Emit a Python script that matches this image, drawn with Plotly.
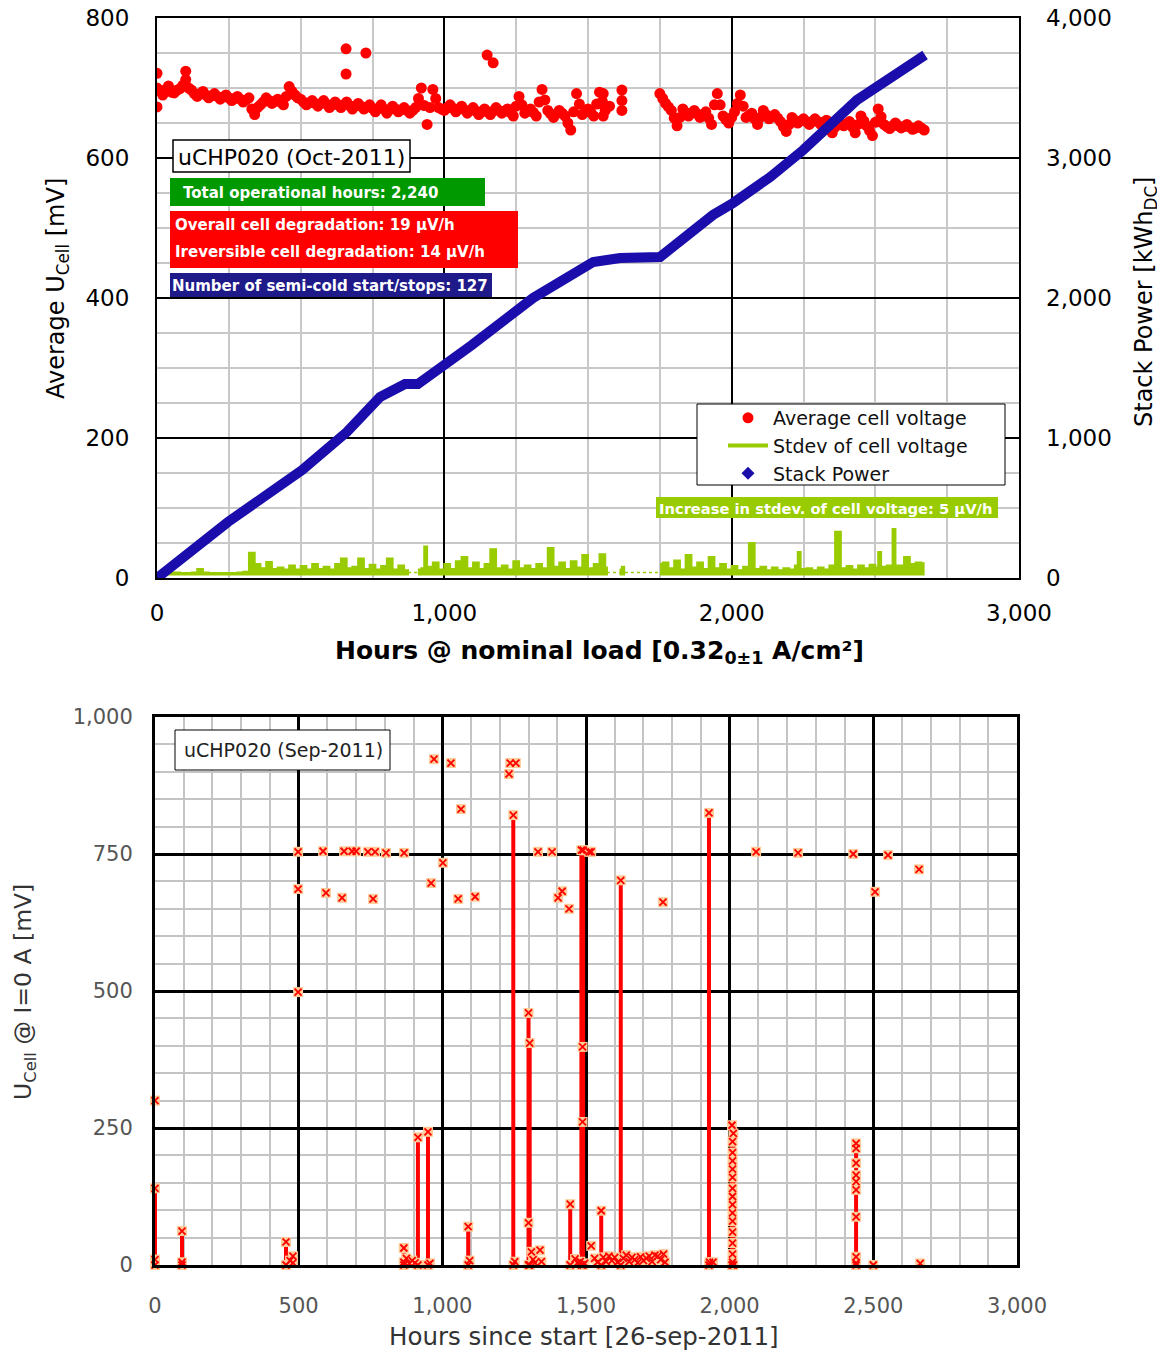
import plotly.graph_objects as go

# page offset of the plot div inside the browser window (default body margin)
OFF = 8
W, H = 1165 - OFF, 1352 - OFF

# ---------------- top chart data ----------------
avg_seg1_start, avg_seg1_step = 0, 20
avg_seg1_mv = [700, 690, 703, 693, 699, 712, 697, 688, 695, 686,
               692, 684, 690, 682, 688, 680, 686, 662, 676, 686,
               678, 684, 676, 702, 690, 684, 676, 682, 674, 682,
               672, 680, 672, 680, 670, 678, 670, 676, 666, 676,
               664, 674, 666, 672, 664, 672, 700, 648, 698, 672,
               668, 676, 666, 674, 664, 672, 662, 670, 662, 672,
               664, 670, 660, 688, 664, 670, 660, 698, 668, 658,
               668, 660, 640, 692, 662, 670, 660, 694, 668]
avg_seg1_mid_start = 10
avg_seg1_mid_mv = [696, 698, 694, 697, 704, 700, 692, 692, 690, 689,
                   688, 687, 686, 685, 684, 683, 670, 672, 680, 682,
                   681, 680, 688, 695, 686, 680, 679, 678, 678, 677,
                   676, 676, 676, 675, 674, 674, 673, 671, 671, 670,
                   669, 670, 669, 668, 668, 685, 675, 672, 685, 670,
                   672, 671, 670, 669, 668, 667, 666, 666, 667, 668,
                   667, 665, 674, 676, 667, 665, 680, 683, 663, 663,
                   664, 650, 666, 677, 666, 665, 677, 681]
avg_seg2_start, avg_seg2_step = 1750, 20
avg_seg2_mv = [692, 678, 668, 646, 670, 660, 668, 658, 666, 648,
               692, 660, 650, 666, 690, 658, 664, 648, 668, 656,
               662, 652, 638, 658, 650, 656, 648, 656, 648, 654,
               636, 652, 646, 652, 636, 660, 646, 632, 670, 648,
               642, 650, 643, 648, 641, 646, 640]
avg_seg2_mid_start = 1760
avg_seg2_mid_mv = [685, 673, 657, 658, 665, 664, 663, 662, 657, 676,
                   676, 655, 658, 678, 674, 661, 656, 658, 662, 659,
                   657, 645, 648, 654, 653, 652, 652, 652, 651, 645,
                   644, 649, 649, 644, 648, 653, 639, 651, 659, 645,
                   646, 646, 645, 644, 643, 643]
avg_extra_hours = [1575, 1553, 1553, 1553, 1618, 1618, 1618, 0, 0, 100, 658, 658, 727, 1149, 1170]
avg_extra_mv = [674, 692, 676, 660, 697, 682, 668, 721, 673, 724, 756, 720, 750, 747, 736]

std_hours_1 = [0, 20, 40, 60, 80, 100, 120, 140, 160, 180, 200, 220, 240, 260, 280, 300, 320, 340, 360, 380,
               400, 420, 440, 460, 480, 500, 520, 540, 560, 580, 600, 620, 640, 660, 680, 700, 720, 740, 760, 780,
               800, 820, 840, 860, 874]
std_mv_1 = [6, 7, 8, 8, 7, 7, 8, 13, 8, 7, 7, 7, 7, 7, 8, 9, 36, 20, 14, 23,
            13, 15, 12, 18, 12, 17, 12, 20, 13, 16, 12, 20, 28, 14, 16, 28, 13, 19, 12, 17,
            28, 12, 18, 11, 11]
std_hours_2 = [908, 920, 930, 940, 960, 980, 1000, 1020, 1040, 1060, 1080, 1100, 1120, 1140, 1160, 1180,
               1200, 1220, 1240, 1260, 1280, 1300, 1320, 1340, 1360, 1380, 1400, 1420, 1440, 1460, 1480,
               1500, 1520, 1540, 1560, 1566]
std_mv_2 = [12, 14, 45, 16, 22, 12, 20, 13, 24, 30, 14, 22, 13, 20, 41, 14,
            18, 12, 24, 14, 18, 13, 20, 14, 43, 16, 22, 13, 24, 15, 33,
            14, 20, 34, 15, 12]
std_hours_3 = [1610, 1618, 1626]
std_mv_3 = [12, 16, 12]
std_hours_4 = [1751, 1760, 1780, 1800, 1820, 1840, 1860, 1880, 1900, 1920, 1940, 1960, 1980, 2000, 2020,
               2040, 2060, 2080, 2100, 2120, 2140, 2160, 2180, 2200, 2220, 2230, 2240, 2260, 2280, 2300,
               2320, 2340, 2360, 2380, 2400, 2420, 2440, 2460, 2480, 2500, 2510, 2520, 2540, 2560, 2570,
               2580, 2600, 2620, 2640, 2660, 2668]
std_mv_4 = [20, 22, 14, 25, 12, 33, 15, 22, 13, 30, 14, 20, 12, 17, 11,
            16, 50, 13, 16, 11, 15, 11, 14, 12, 18, 37, 13, 14, 11, 15,
            12, 18, 66, 14, 17, 12, 18, 14, 19, 15, 37, 16, 18, 70, 18,
            18, 30, 20, 22, 21, 21]
std_floor_mv = 5
std_gap_hours = [874, 908, None, 1566, 1751]
std_gap_mv = [8, 8, None, 8, 8]

power_hours = [0, 247, 505, 661, 776, 863, 908, 1002, 1096, 1309, 1448, 1518, 1612, 1751, 1935,
               2005, 2134, 2249, 2436, 2673]
power_kwh = [0, 400, 771, 1043, 1293, 1386, 1386, 1521, 1664, 2000, 2179, 2257, 2286, 2293, 2593,
             2679, 2864, 3057, 3414, 3736]

# ---------------- bottom chart data ----------------
spike_hours = [0, 94, 456, 866, 915, 950, 1090, 1247, 1300, 1304, 1445, 1484, 1490, 1553, 1621, 1928, 2008, 2013, 2440]
spike_tops = [140, 62, 42, 31, 233, 243, 70, 821, 460, 405, 111, 757, 757, 99, 702, 825, 255, 240, 222]

ocv_high_hours = [498, 498, 585, 595, 651, 658, 686, 700, 741, 759, 766, 804, 867, 961, 971, 1002, 1030,
                  1055, 1065, 1114, 1232, 1236, 1256, 1333, 1382, 1403, 1417, 1441, 1511, 1518, 1768, 2092,
                  2238, 2430, 2506, 2551, 2659, 0, 498]
ocv_high_mv = [754, 686, 755, 679, 670, 755, 755, 755, 754, 668, 754, 752, 752, 697, 923, 734, 916,
               668, 832, 672, 896, 916, 916, 754, 754, 670, 682, 650, 754, 754, 662, 754,
               752, 750, 681, 748, 722, 300, 498]
ocv_mid_hours = [1300, 1488, 1488,
                 2010, 2010, 2010, 2010, 2010, 2010, 2010, 2010, 2010, 2010, 2010, 2010, 2010, 2010,
                 2440, 2440, 2440, 2440, 2440, 2440, 2440, 2440]
ocv_mid_mv = [77, 398, 261,
              225, 205, 190, 175, 160, 140, 125, 110, 95, 80, 60, 40, 20, 5,
              213, 186, 164, 152, 137, 88, 15, 4]
ocv_low_hours = [0, 94, 470, 480, 480, 866, 875, 885, 895, 905, 957, 1095, 1252, 1310, 1316, 1322, 1340,
                 1345, 1462, 1470, 1480, 1495, 1518, 1530, 1540, 1560, 1570, 1580, 1590, 1600, 1610, 1630,
                 1640, 1650, 1660, 1670, 1680, 1690, 1700, 1710, 1720, 1730, 1740, 1750, 1760, 1770, 1775,
                 1930, 1942, 2500, 2663]
ocv_low_mv = [10, 5, 8, 16, 4, 5, 12, 3, 8, 4, 3, 8, 6, 24, 10, 4, 27,
              6, 11, 4, 6, 3, 35, 12, 5, 14, 6, 16, 8, 14, 5, 12,
              18, 6, 14, 10, 4, 15, 8, 12, 16, 6, 18, 16, 10, 20, 5,
              5, 5, 0, 3]

# ---------------- build ----------------
def grid(start, step, vals):
    return [start + i * step for i in range(len(vals))]


avg_hours = (grid(avg_seg1_start, avg_seg1_step, avg_seg1_mv) +
             grid(avg_seg1_mid_start, avg_seg1_step, avg_seg1_mid_mv) +
             grid(avg_seg2_start, avg_seg2_step, avg_seg2_mv) +
             grid(avg_seg2_mid_start, avg_seg2_step, avg_seg2_mid_mv) + avg_extra_hours)
avg_mv = avg_seg1_mv + avg_seg1_mid_mv + avg_seg2_mv + avg_seg2_mid_mv + avg_extra_mv

std_x, std_y = [], []
for hs, vs in [(std_hours_1, std_mv_1), (std_hours_2, std_mv_2), (std_hours_3, std_mv_3),
               (std_hours_4, std_mv_4)]:
    std_x += hs + hs[::-1] + [None]
    std_y += vs + [std_floor_mv] * len(hs) + [None]

RED = "#FF0000"
GREEN = "#99CC00"
BLUE = "#1A0DAB"
PEACH = "#FFCC99"
FONT = "DejaVu Sans"

fig = go.Figure()

fig.add_trace(go.Scatter(x=avg_hours, y=avg_mv, mode="markers", name="Average cell voltage",
                         marker=dict(color=RED, size=11), xaxis="x", yaxis="y", legendrank=1))
fig.add_trace(go.Scatter(x=std_gap_hours, y=std_gap_mv, mode="lines", showlegend=False,
                         line=dict(color=GREEN, width=1.5, dash="dot"), xaxis="x", yaxis="y"))
fig.add_trace(go.Scatter(x=std_x, y=std_y, mode="lines", showlegend=False, fill="toself",
                         fillcolor=GREEN, line=dict(color=GREEN, width=2, shape="hv"),
                         xaxis="x", yaxis="y"))
fig.add_trace(go.Scatter(x=[None], y=[None], mode="lines", name="Stdev of cell voltage",
                         line=dict(color=GREEN, width=4), xaxis="x", yaxis="y", legendrank=2))
fig.add_trace(go.Scatter(x=power_hours, y=power_kwh, mode="lines", showlegend=False,
                         line=dict(color=BLUE, width=10), xaxis="x", yaxis="y2", cliponaxis=False))
fig.add_trace(go.Scatter(x=[None], y=[None], mode="markers", name="Stack Power",
                         marker=dict(color=BLUE, size=10, symbol="diamond"), xaxis="x", yaxis="y2",
                         legendrank=3))

# bottom chart
sx, sy = [], []
for h, t in zip(spike_hours, spike_tops):
    sx += [h, h, None]
    sy += [0, t, None]
fig.add_trace(go.Scatter(x=sx, y=sy, mode="lines", showlegend=False,
                         line=dict(color=RED, width=4), xaxis="x2", yaxis="y3", cliponaxis=False))
all_h = ocv_high_hours + ocv_mid_hours + ocv_low_hours + spike_hours + spike_hours
all_v = ocv_high_mv + ocv_mid_mv + ocv_low_mv + spike_tops + [0] * len(spike_hours)
fig.add_trace(go.Scatter(x=all_h, y=all_v, mode="markers", showlegend=False,
                         marker=dict(color=PEACH, size=10, symbol="square"),
                         xaxis="x2", yaxis="y3", cliponaxis=False))
fig.add_trace(go.Scatter(x=all_h, y=all_v, mode="markers", showlegend=False,
                         marker=dict(color=RED, size=7, symbol="x-thin", line=dict(color=RED, width=1.8)),
                         xaxis="x2", yaxis="y3", cliponaxis=False))


def px(x):
    return (x - OFF) / W


def py(y):
    return 1 - (y - OFF) / H


top_dom_x = [px(157), px(1019)]
top_dom_y = [py(578), py(18)]
bot_dom_x = [px(155), px(1017)]
bot_dom_y = [py(1265), py(717)]

axis_common = dict(showline=True, mirror=True, linecolor="black", zeroline=False, ticks="",
                   automargin=False, ticklabeloverflow="allow")

fig.update_layout(
    width=W, height=H, margin=dict(l=0, r=0, t=0, b=0),
    paper_bgcolor="white", plot_bgcolor="white",
    font=dict(family=FONT, color="black"),
    xaxis=dict(domain=top_dom_x, range=[0, 3000], dtick=1000, tickformat=",", anchor="y",
               showgrid=True, gridcolor="black", gridwidth=2, linewidth=2,
               minor=dict(dtick=250, showgrid=True, gridcolor="#c8c8c8", gridwidth=1.5),
               tickfont=dict(size=23, color="black"), ticklabelstandoff=13, **axis_common),
    yaxis=dict(domain=top_dom_y, range=[0, 800], dtick=200, anchor="x",
               showgrid=True, gridcolor="black", gridwidth=2, linewidth=2,
               minor=dict(dtick=50, showgrid=True, gridcolor="#c8c8c8", gridwidth=1.5),
               tickfont=dict(size=23, color="black"), ticklabelstandoff=21, **axis_common),
    yaxis2=dict(range=[0, 4000], dtick=1000, tickformat=",", overlaying="y", side="right", anchor="x",
                showgrid=False, showline=False, zeroline=False, ticks="", automargin=False,
                ticklabeloverflow="allow",
                tickfont=dict(size=23, color="black"), ticklabelstandoff=26),
    xaxis2=dict(domain=bot_dom_x, range=[0, 3000], dtick=500, tickformat=",", anchor="y3",
                showgrid=True, gridcolor="black", gridwidth=3, linewidth=3,
                minor=dict(dtick=100, showgrid=True, gridcolor="#c4c4c4", gridwidth=2),
                tickfont=dict(size=21, color="#555555"), ticklabelstandoff=20, **axis_common),
    yaxis3=dict(domain=bot_dom_y, range=[0, 1000], dtick=250, tickformat=",", anchor="x2",
                showgrid=True, gridcolor="black", gridwidth=3, linewidth=3,
                minor=dict(dtick=50, showgrid=True, gridcolor="#c4c4c4", gridwidth=2),
                tickfont=dict(size=21, color="#555555"), ticklabelstandoff=15, **axis_common),
    legend=dict(x=px(723), y=py(399), xanchor="left", yanchor="top", bgcolor="rgba(0,0,0,0)",
                borderwidth=0, font=dict(size=19, color="#111111"),
                itemwidth=40, tracegroupgap=0),
)

shapes = []
annots = []


def box(x0, y0, x1, y1, fill, line_w=0):
    shapes.append(dict(type="rect", xref="paper", yref="paper", x0=px(x0), x1=px(x1), y0=py(y1), y1=py(y0),
                       fillcolor=fill, line=dict(color="black", width=line_w), layer="above"))


def text(t, x, y, size, color="white", bold=False, anchor="left", angle=0, family=FONT):
    if bold:
        t = "<b>" + t + "</b>"
    annots.append(dict(text=t, xref="paper", yref="paper", x=px(x), y=py(y), xanchor=anchor,
                       yanchor="middle", showarrow=False, textangle=angle,
                       font=dict(size=size, color=color, family=family)))


box(173, 140, 410, 172, "white", 1.5)
text("uCHP020 (Oct-2011)", 291, 157, 22, "black", anchor="center")
box(170, 178, 485, 206, "#009900")
text("Total operational hours: 2,240", 181, 193, 15, bold=True)
box(170, 211, 518, 268, "#FF0000")
text("Overall cell degradation: 19 µV/h", 173, 225, 15, bold=True)
text("Ireversible cell degradation: 14 µV/h", 173, 252, 15, bold=True)
box(170, 273, 492, 297, "#1F1A8A")
text("Number of semi-cold start/stops: 127", 170, 286, 15, bold=True)
box(656, 497, 998, 518, GREEN)
text("Increase in stdev. of cell voltage: 5 µV/h", 657, 508, 14.7, bold=True)

# legend frame
box(697, 404, 1005, 485, "white", 1)

box(175, 730, 390, 770, "white", 1)
text("uCHP020 (Sep-2011)", 283, 750, 19, "#222222", anchor="center")

# axis titles
text("Hours @ nominal load [0.32<sub>0±1</sub> A/cm²]", 599, 652, 25, "black", bold=True, anchor="center")
text("Average U<sub>Cell</sub> [mV]", 57, 289, 24, "black", anchor="center", angle=-90)
text("Stack Power [kWh<sub>DC</sub>]", 1145, 302, 24, "black", anchor="center", angle=-90)
text("Hours since start [26-sep-2011]", 584, 1336, 24.5, "#333333", anchor="center")
text("U<sub>Cell</sub> @ I=0 A [mV]", 25, 992, 23.5, "#333333", anchor="center", angle=-90)

fig.update_layout(shapes=shapes, annotations=annots)

fig.write_html("out.html")
